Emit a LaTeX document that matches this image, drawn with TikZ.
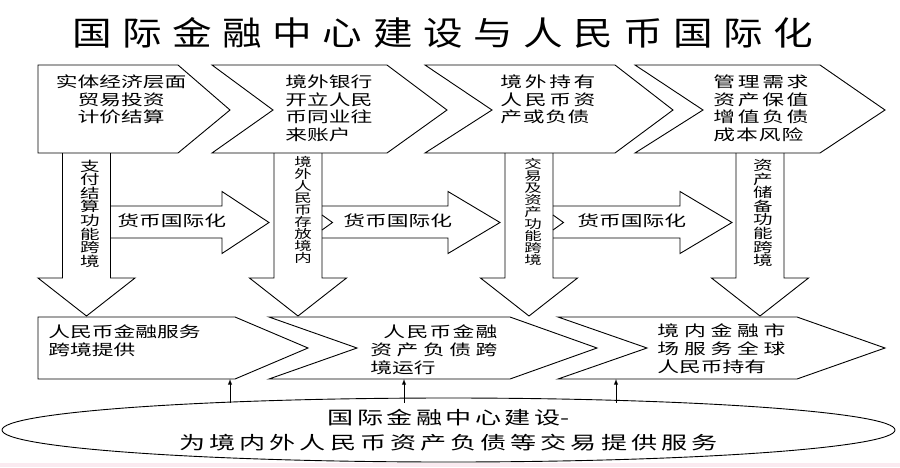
\documentclass[tikz,border=0pt]{standalone}
\usepackage{fontspec}
\usetikzlibrary{shapes.geometric}
\setmainfont{Noto Sans CJK SC}[FakeStretch=1.45]
\newfontfamily\titlefont{Noto Sans CJK SC}[FakeStretch=1.2]
% spread the characters of a line over a given width
\def\sprd#1{\ifx#1\relax\else#1\expandafter\sprdnext\fi}
\def\sprdnext#1{\ifx#1\relax\else\hfil#1\expandafter\sprdnext\fi}
\newcommand\spread[2]{\makebox[#1][s]{\sprd#2\relax}}
\definecolor{strip}{RGB}{250,234,240}
\begin{document}
\begin{tikzpicture}[x=1pt, y=-1pt, >=latex, line width=.9pt,
    txt/.style={inner sep=0pt, font=\fontsize{15}{17.5}\selectfont},
    vtxt/.style={inner sep=0pt, align=center}]
\useasboundingbox (0,0) rectangle (900,467);
\fill[strip] (0,463) rectangle (900,467);
\node (title) at (443,32.5) [inner sep=0pt, font=\titlefont\fontsize{33}{33}\selectfont] {\spread{741pt}{国际金融中心建设与人民币国际化}};
% top row
\draw (38,65) -- (178,65) -- (230,110) -- (178,153) -- (38,153) -- cycle;
\foreach \l/\n/\s/\t in {212/273/387/447, 425/492/615/673, 635/703/820/885}
{
    \draw (\l,65) -- (\s,65) -- (\t,110) -- (\s,153) -- (\l,153) -- (\n,110) -- cycle;
}
\node (t1) at (121,99.5) [txt, align=center] {实体经济层面\\贸易投资\\计价结算};
\node (t2) at (285,108.5) [txt, anchor=west, align=left] {境外银行\\开立人民\\币同业往\\来账户};
\node (t3) at (500,99.5) [txt, anchor=west, align=left] {\spread{95pt}{境外持有}\\\spread{95pt}{人民币资}\\\spread{89pt}{产或负债}};
\node (t4) at (713,108.5) [txt, anchor=west, align=left] {\spread{95pt}{管理需求}\\\spread{95pt}{资产保值}\\\spread{95pt}{增值负债}\\\spread{90pt}{成本风险}};
% down arrows
\foreach \c in {86.5,298,529,760}
{
    \draw (\c-24,153) -- (\c-24,278) -- (\c-48.5,278) -- (\c,316) -- (\c+48.5,278) -- (\c+24,278) -- (\c+24,153);
}
\node (v1) at (90,213.5) [vtxt, font=\fontsize{13.5}{13.6}\selectfont] {支\\付\\结\\算\\功\\能\\跨\\境};
\node (v2) at (303,210) [vtxt, font=\fontsize{12}{12}\selectfont] {境\\外\\人\\民\\币\\存\\放\\境\\内};
\node (v3) at (533,211.5) [vtxt, font=\fontsize{12}{12}\selectfont] {交\\易\\及\\资\\产\\功\\能\\跨\\境};
\node (v4) at (763,213) [vtxt, font=\fontsize{13.5}{13.6}\selectfont] {资\\产\\储\\备\\功\\能\\跨\\境};
% arrows to the right
\foreach \a/\b/\t in {110.5/222/269, 322/448/500, 553/680/732}
{
    \draw (\a,206) -- (\b,206) -- (\b,191.5) -- (\t,222.5) -- (\b,253.5) -- (\b,238) -- (\a,238);
}
\foreach \a in {322,553}
{
    \draw (\a,215) -- (\a+10.5,222.5) -- (\a,230);
}
\foreach \x/\w [count=\i] in {117/98, 343/100, 577/96}
{
    \node (h\i) at (\x,220.5) [txt, anchor=west] {\spread{\w pt}{货币国际化}};
}
% bottom row
\draw (38,317) -- (235,317) -- (308,348) -- (235,379) -- (38,379) -- cycle;
\foreach \l/\n/\s/\t in {269/357/510/597, 558/647/797/885}
{
    \draw (\l,317) -- (\s,317) -- (\t,348) -- (\s,379) -- (\l,379) -- (\n,348) -- cycle;
}
\coordinate (b1) at (230,379);
\coordinate (b2) at (404,379);
\coordinate (b3) at (616,379);
\node (s1) at (48,340.5) [txt, anchor=west, align=left, font=\fontsize{15}{18}\selectfont] {人民币金融服务\\跨境提供};
\node (s2) at (370,350) [txt, anchor=west, align=left, font=\fontsize{15}{18}\selectfont] {\hspace*{13pt}\spread{114pt}{人民币金融}\\\spread{127pt}{资产负债跨}\\\spread{61pt}{境运行}};
\node (s3) at (657,349) [txt, anchor=west, align=left, font=\fontsize{15}{18}\selectfont] {\spread{128pt}{境内金融市}\\\spread{128pt}{场服务全球}\\\spread{106pt}{人民币持有}};
% base
\node (base) at (448.5,430) [draw, ellipse, minimum width=893pt, minimum height=64pt, inner sep=0pt, align=center, font=\fontsize{18}{25}\selectfont] {\spread{233pt}{国际金融中心建设}-\\\spread{538pt}{为境内外人民币资产负债等交易提供服务}};
\foreach \i in {1,2,3}
{
    \draw[->] (b\i |- base.north) ++(0,5) -- (b\i);
}
\end{tikzpicture}
\end{document}
